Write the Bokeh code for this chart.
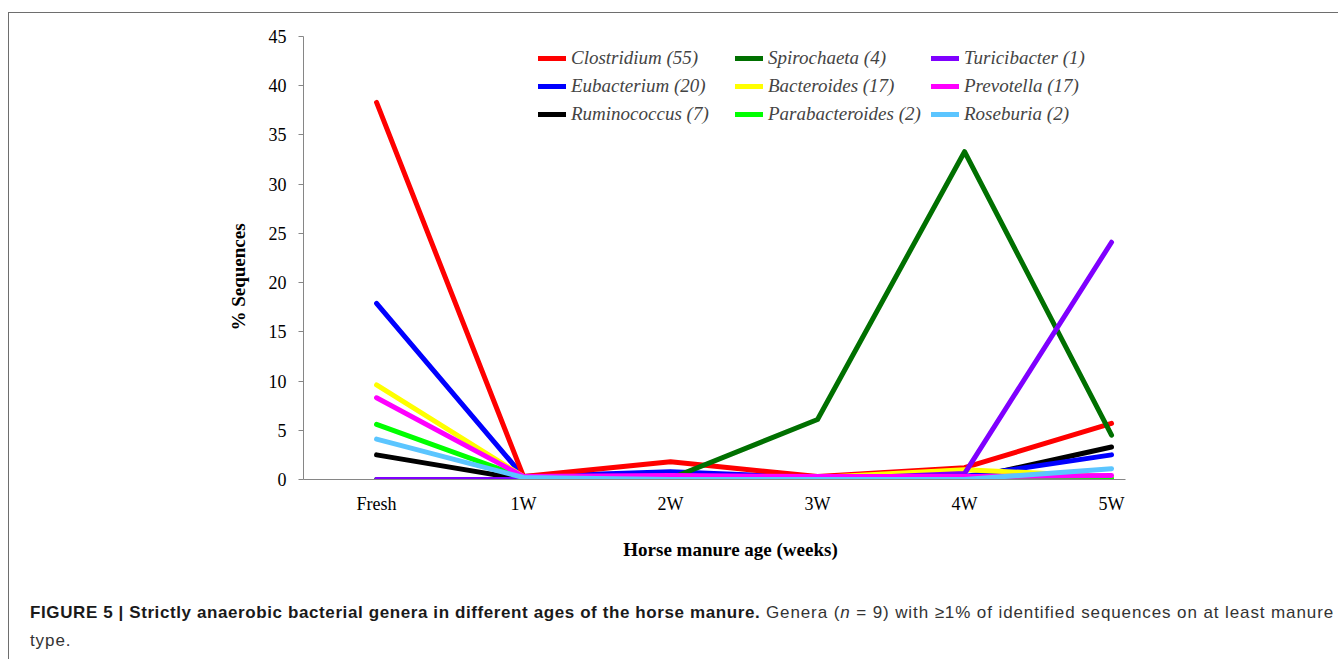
from bokeh.plotting import figure
from bokeh.layouts import column
from bokeh.models import Range1d, FixedTicker, Legend, LegendItem, Label, Div
from bokeh.embed import file_html
from bokeh.resources import INLINE

categories = ["Fresh", "1W", "2W", "3W", "4W", "5W"]
y_ticks = [0, 5, 10, 15, 20, 25, 30, 35, 40, 45]

clostridium = [38.3, 0.3, 1.8, 0.3, 1.2, 5.7]
spirochaeta = [0.0, 0.0, 0.1, 6.1, 33.3, 4.5]
turicibacter = [0.0, 0.0, 0.0, 0.0, 0.6, 24.1]
eubacterium = [17.9, 0.3, 0.8, 0.2, 0.3, 2.5]
bacteroides = [9.6, 0.3, 0.2, 0.2, 1.0, 0.3]
prevotella = [8.3, 0.3, 0.4, 0.3, 0.3, 0.4]
ruminococcus = [2.5, 0.0, 0.0, 0.0, 0.0, 3.3]
parabacteroides = [5.6, 0.2, 0.0, 0.0, 0.0, 0.1]
roseburia = [4.1, 0.2, 0.0, 0.0, 0.0, 1.1]

series = [
    ("Clostridium (55)", clostridium, "#FF0000"),
    ("Spirochaeta (4)", spirochaeta, "#007000"),
    ("Turicibacter (1)", turicibacter, "#7F00FF"),
    ("Eubacterium (20)", eubacterium, "#0000FF"),
    ("Bacteroides (17)", bacteroides, "#FFFF00"),
    ("Prevotella (17)", prevotella, "#FF00FF"),
    ("Ruminococcus (7)", ruminococcus, "#000000"),
    ("Parabacteroides (2)", parabacteroides, "#00FF00"),
    ("Roseburia (2)", roseburia, "#5BC5FF"),
]
draw_order = [6, 3, 0, 1, 4, 7, 2, 5, 8]

xs = list(range(len(categories)))

W = 1329
p = figure(width=W, height=507, output_backend="svg", toolbar_location=None,
           x_range=Range1d(-0.497, 5.095), y_range=Range1d(0, 45),
           min_border_left=294, min_border_right=213, min_border_top=23, min_border_bottom=41)
p.outline_line_color = None
p.xgrid.grid_line_color = None
p.ygrid.grid_line_color = None

renderers = {}
for i in draw_order:
    name, vals, col = series[i]
    renderers[i] = p.line(xs, vals, line_color=col, line_width=5,
                          line_join="round", line_cap="round")

# y axis
p.yaxis.ticker = FixedTicker(ticks=y_ticks)
p.yaxis.axis_line_color = "#868686"
p.yaxis.major_tick_line_color = "#868686"
p.yaxis.major_tick_out = 5
p.yaxis.major_tick_in = 0
p.yaxis.minor_tick_line_color = None
p.yaxis.major_label_text_font = "Liberation Serif"
p.yaxis.major_label_text_font_size = "18px"
p.yaxis.major_label_text_color = "black"
p.yaxis.major_label_standoff = 12
p.yaxis.axis_label = "% Sequences" + "\u00a0" * 8
p.yaxis.axis_label_text_font = "Liberation Serif"
p.yaxis.axis_label_text_font_style = "bold"
p.yaxis.axis_label_text_font_size = "19px"
p.yaxis.axis_label_text_color = "black"
p.yaxis.axis_label_standoff = 17

# x axis
p.xaxis.ticker = FixedTicker(ticks=xs)
p.xaxis.major_label_overrides = {i: c for i, c in enumerate(categories)}
p.xaxis.axis_line_color = "#868686"
p.xaxis.major_tick_line_color = None
p.xaxis.minor_tick_line_color = None
p.xaxis.major_label_text_font = "Liberation Serif"
p.xaxis.major_label_text_font_size = "18px"
p.xaxis.major_label_text_color = "black"
p.xaxis.major_label_standoff = 8

# legends (3 columns)
col_x = [235, 432, 628]
for c in range(3):
    items = []
    for rrow in range(3):
        i = rrow * 3 + c
        items.append(LegendItem(label=series[i][0], renderers=[renderers[i]]))
    leg = Legend(items=items, location=(col_x[c], 354), orientation="vertical",
                 glyph_width=28, glyph_height=20, label_height=20, spacing=6,
                 padding=0, margin=0, label_standoff=5,
                 label_text_font="Liberation Serif", label_text_font_style="italic",
                 label_text_font_size="19px", border_line_color=None,
                 background_fill_alpha=0)
    p.add_layout(leg)

# strip holding the x-axis title (its frame is aligned with the chart frame)
SH = 74
s = figure(width=W, height=SH, output_backend="svg", toolbar_location=None,
           x_range=Range1d(303, 1125), y_range=Range1d(520 + SH, 520),
           min_border_left=294, min_border_right=213, min_border_top=0, min_border_bottom=0)
s.axis.visible = False
s.grid.grid_line_color = None
s.outline_line_color = None
s.add_layout(Label(x=730, y=549, text="Horse manure age (weeks)", text_align="center",
                   text_baseline="middle", text_font="Liberation Serif",
                   text_font_style="bold", text_font_size="19px", text_color="black"))

caption = Div(
    text=("<span style='font-weight:bold;color:#1a1a1a;letter-spacing:0.6px'>FIGURE 5 | Strictly "
          "anaerobic bacterial genera in different ages of the horse manure.</span>"
          "<span style='letter-spacing:0.9px'> Genera (</span>"
          "<span style='font-style:italic;letter-spacing:0.9px'>n</span>"
          "<span style='letter-spacing:0.9px'> = 9) with \u22651% of identified sequences on at "
          "least manure</span><br><span style='letter-spacing:0.9px'>type.</span>"),
    width=W - 4,
    styles={"font-family": "'Liberation Sans', Arial, sans-serif", "font-size": "17px",
            "line-height": "28px", "color": "#333333", "white-space": "nowrap",
            "padding-left": "16px", "box-sizing": "border-box"})

layout = column(p, s, caption, styles={"margin-left": "8px", "margin-top": "12px",
                                       "border-left": "1px solid #6e6e6e",
                                       "border-top": "1px solid #6e6e6e"})

open("out.html", "w").write(file_html(layout, INLINE))
